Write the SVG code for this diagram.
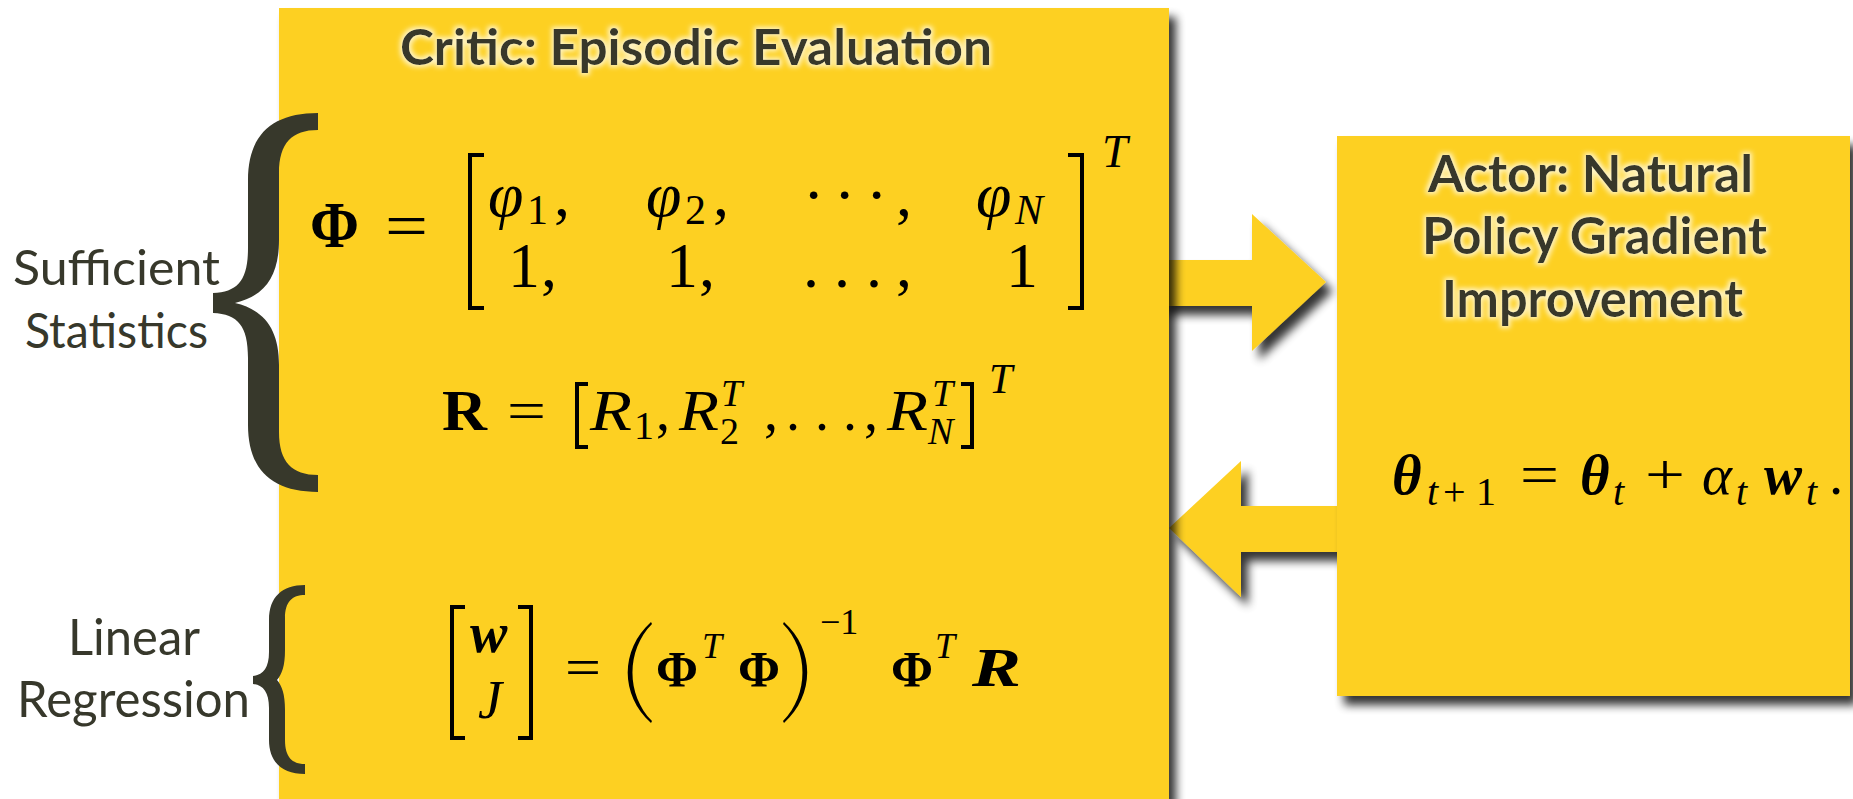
<svg xmlns="http://www.w3.org/2000/svg" width="1853" height="799" viewBox="0 0 1853 799">
<defs>
<style>
.box{fill:#FDD024}
.arrow{fill:#FDD024}
.ttl{font-family:Lato,"Open Sans","Liberation Sans",sans-serif;font-weight:bold;fill:#37382B}
.lbl{font-family:Lato,"Open Sans","Liberation Sans",sans-serif;fill:#37382B}
.brace{fill:#37382B}
.m{font-family:"Liberation Serif","DejaVu Serif",serif;fill:#000}
.i{font-style:italic}
.b{font-weight:bold}
.delim{fill:none;stroke:#000;stroke-width:4}
</style>
<filter id="shadow" x="-10%" y="-10%" width="125%" height="125%">
<feGaussianBlur in="SourceAlpha" stdDeviation="5"/>
<feOffset dx="7" dy="9" result="o"/>
<feComponentTransfer><feFuncA type="linear" slope="0.8"/></feComponentTransfer>
<feMerge><feMergeNode/><feMergeNode in="SourceGraphic"/></feMerge>
</filter>
<filter id="glow" x="-5%" y="-30%" width="110%" height="160%">
<feMorphology in="SourceAlpha" operator="dilate" radius="1.5" result="d"/>
<feGaussianBlur in="d" stdDeviation="2.5" result="bl"/>
<feFlood flood-color="#FFF6CC" flood-opacity="0.95"/>
<feComposite in2="bl" operator="in" result="g"/>
<feMerge><feMergeNode in="g"/><feMergeNode in="SourceGraphic"/></feMerge>
</filter>
</defs>
<rect width="1853" height="799" fill="#FFFFFF"/>

<g id="connectors">
<polygon id="arrow-critic-actor" class="arrow" filter="url(#shadow)" points="1160,260 1252,260 1252,214 1326,282 1252,351 1252,306 1160,306"/>
<polygon id="arrow-actor-critic" class="arrow" filter="url(#shadow)" points="1345,506 1241,506 1241,461 1169,528 1241,597 1241,552 1345,552"/>
</g>

<g id="critic">
<rect class="box" x="279" y="8" width="890" height="830" filter="url(#shadow)"/>
<text class="ttl" x="400" y="65" font-size="50" textLength="592" lengthAdjust="spacingAndGlyphs" filter="url(#glow)">Critic: Episodic Evaluation</text>

<g id="eq-phi" class="m" font-size="64">
<text class="b" x="310" y="247" font-size="66" textLength="49" lengthAdjust="spacingAndGlyphs">Φ</text>
<text x="385" y="247" textLength="43" lengthAdjust="spacingAndGlyphs">=</text>
<path class="delim" d="M484 155 H470 V308 H484"/>
<path class="delim" d="M1068 155 H1082 V308 H1068"/>
<text class="i" x="1102" y="167" font-size="46">T</text>
<text class="i" x="488" y="216">φ</text><text x="527" y="224" font-size="42">1</text><text x="554" y="216">,</text>
<text class="i" x="646" y="216">φ</text><text x="685" y="224" font-size="42">2</text><text x="713" y="216">,</text>
<text x="803 834 866 896" y="216">···,</text>
<text class="i" x="976" y="216">φ</text><text class="i" x="1015" y="224" font-size="42">N</text>
<text x="508" y="287">1</text><text x="541" y="287">,</text>
<text x="666" y="287">1</text><text x="699" y="287">,</text>
<text x="803 834 866 896" y="287">...,</text>
<text x="1006" y="287">1</text>
</g>

<g id="eq-r" class="m" font-size="56">
<text class="b" x="442" y="430" textLength="45" lengthAdjust="spacingAndGlyphs">R</text>
<text x="507" y="430" textLength="39" lengthAdjust="spacingAndGlyphs">=</text>
<path class="delim" d="M588 384 H577 V447 H588" stroke-width="3.5"/>
<text class="i" x="590" y="430" textLength="42" lengthAdjust="spacingAndGlyphs">R</text><text x="634" y="439" font-size="40">1</text>
<text x="656" y="430">,</text>
<text class="i" x="679" y="430" textLength="40" lengthAdjust="spacingAndGlyphs">R</text><text class="i" x="721" y="406" font-size="38">T</text><text x="720" y="444" font-size="38">2</text>
<text x="764" y="430">,</text>
<text x="786 815 843 864" y="430">...,</text>
<text class="i" x="887" y="430" textLength="41" lengthAdjust="spacingAndGlyphs">R</text><text class="i" x="932" y="406" font-size="38">T</text><text class="i" x="928" y="444" font-size="38">N</text>
<path class="delim" d="M961 384 H972 V447 H961" stroke-width="3.5"/>
<text class="i" x="989" y="393" font-size="42">T</text>
</g>

<g id="eq-regression" class="m" font-size="52">
<path class="delim" d="M465 607 H452 V738 H465"/>
<path class="delim" d="M518 607 H531 V738 H518"/>
<text class="b i" x="470" y="652" font-size="56">w</text>
<text class="i" x="478" y="718" font-size="54">J</text>
<text x="565" y="685" textLength="36" lengthAdjust="spacingAndGlyphs">=</text>
<path fill="#000" d="M651 622 C620 650,620 695,651 723 L652 721 C626 695,626 650,652 624 Z"/>
<text class="b" x="656" y="686" font-size="50" textLength="42" lengthAdjust="spacingAndGlyphs">Φ</text>
<text class="i" x="702" y="658" font-size="36">T</text>
<text class="b" x="738" y="686" font-size="50" textLength="42" lengthAdjust="spacingAndGlyphs">Φ</text>
<path fill="#000" d="M784 622 C815 650,815 695,784 723 L783 721 C809 695,809 650,783 624 Z"/>
<text x="820" y="634" font-size="36">−1</text>
<text class="b" x="891" y="686" font-size="50" textLength="42" lengthAdjust="spacingAndGlyphs">Φ</text>
<text class="i" x="935" y="658" font-size="36">T</text>
<text class="b i" x="972" y="686" font-size="54" textLength="49" lengthAdjust="spacingAndGlyphs">R</text>
</g>
</g>

<g id="actor">
<rect class="box" x="1337" y="136" width="513" height="560" filter="url(#shadow)"/>
<g class="ttl" font-size="52" filter="url(#glow)">
<text x="1428" y="192" textLength="325" lengthAdjust="spacingAndGlyphs">Actor: Natural</text>
<text x="1422" y="254" textLength="345" lengthAdjust="spacingAndGlyphs">Policy Gradient</text>
<text x="1442" y="317" textLength="301" lengthAdjust="spacingAndGlyphs">Improvement</text>
</g>
<g id="eq-update" class="m" font-size="57">
<text class="b i" x="1392" y="494">θ</text>
<text class="i" x="1427" y="505" font-size="40">t</text><text x="1443" y="505" font-size="40">+</text><text x="1476" y="505" font-size="40">1</text>
<text x="1520" y="494" textLength="39" lengthAdjust="spacingAndGlyphs">=</text>
<text class="b i" x="1580" y="494">θ</text><text class="i" x="1613" y="505" font-size="40">t</text>
<text x="1645" y="494" textLength="40" lengthAdjust="spacingAndGlyphs">+</text>
<text class="i" x="1702" y="494">α</text><text class="i" x="1736" y="505" font-size="40">t</text>
<text class="b i" x="1764" y="494">w</text><text class="i" x="1806" y="505" font-size="40">t</text>
<text x="1829" y="494">.</text>
</g>
</g>

<g id="sufficient-statistics">
<path class="brace" d="M318 113 C272 113,248 135,248 180 L248 248 C248 280,238 292,213 293 L213 313 C238 314,248 326,248 358 L248 425 C248 470,272 492,318 492 L318 475 C292 475,279 462,279 432 L279 365 C279 330,265 310,235 303 C265 296,279 276,279 240 L279 173 C279 143,292 130,318 130 Z"/>
<text class="lbl" x="13" y="285" font-size="48" textLength="207" lengthAdjust="spacingAndGlyphs">Sufficient</text>
<text class="lbl" x="25" y="348" font-size="48" textLength="183" lengthAdjust="spacingAndGlyphs">Statistics</text>
</g>

<g id="linear-regression">
<path class="brace" d="M305 585 C282 585,269 597,269 620 L269 652 C269 668,263 675,253 676 L253 684 C263 685,269 692,269 708 L269 740 C269 762,282 774,305 774 L305 764 C292 764,285 757,285 740 L285 710 C285 694,282 686,277 680 C282 674,285 666,285 650 L285 618 C285 602,292 595,305 595 Z"/>
<text class="lbl" x="68" y="655" font-size="50" textLength="132" lengthAdjust="spacingAndGlyphs">Linear</text>
<text class="lbl" x="17" y="717" font-size="50" textLength="233" lengthAdjust="spacingAndGlyphs">Regression</text>
</g>
</svg>
